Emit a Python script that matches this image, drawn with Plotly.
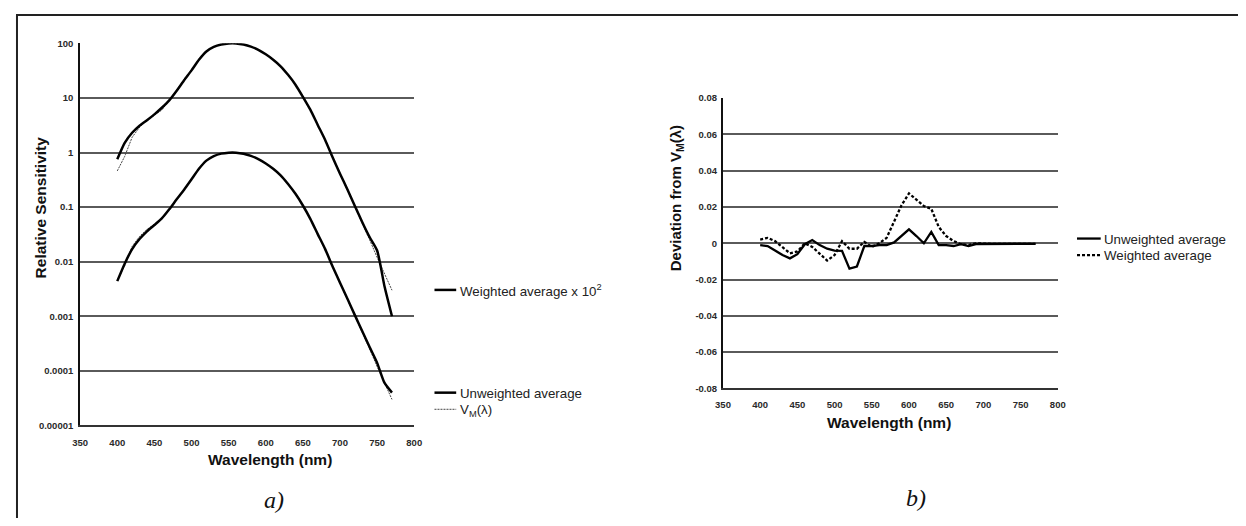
import plotly.graph_objects as go

# ---------------- data ----------------
wavelength = [400, 410, 420, 430, 440, 450, 460, 470, 480, 490,
              500, 510, 520, 530, 540, 550, 560, 570, 580, 590,
              600, 610, 620, 630, 640, 650, 660, 670, 680, 690,
              700, 710, 720, 730, 740, 750, 760, 770]

unweighted_avg = [0.0044, 0.0092, 0.017, 0.026, 0.036, 0.047, 0.062, 0.091, 0.139, 0.208,
                  0.323, 0.503, 0.71, 0.862, 0.954, 0.995, 0.995, 0.952, 0.87, 0.757,
                  0.631, 0.503, 0.381, 0.265, 0.175, 0.107, 0.061, 0.032, 0.017, 0.0082,
                  0.0041, 0.0021, 0.00105, 0.00053, 0.00027, 0.00014, 0.00006, 0.00004]

vm_lambda = [0.0046, 0.0085, 0.019, 0.029, 0.039, 0.048, 0.060, 0.091, 0.139, 0.208,
             0.323, 0.503, 0.710, 0.862, 0.954, 0.995, 0.995, 0.952, 0.870, 0.757,
             0.631, 0.503, 0.381, 0.265, 0.175, 0.107, 0.061, 0.032, 0.017, 0.00821,
             0.0041, 0.00209, 0.00105, 0.00052, 0.00025, 0.00012, 0.00006, 0.00003]

weighted_avg_x100 = [0.75, 1.5, 2.3, 3.1, 3.9, 5.0, 6.6, 9.0, 13.5, 21,
                     32, 50, 71, 86, 95, 99.5, 99.5, 95, 87, 76,
                     63, 50, 38, 26.5, 17.5, 10.5, 6.1, 3.2, 1.7, 0.82,
                     0.41, 0.21, 0.105, 0.053, 0.028, 0.016, 0.0035, 0.001]

dev_unweighted = [-0.001, -0.0015, -0.004, -0.0065, -0.0083, -0.006, -0.0005, 0.0018, -0.001, -0.003,
                  -0.004, -0.0042, -0.014, -0.0128, -0.0015, -0.0015, -0.001, -0.001, 0.0005, 0.004,
                  0.0077, 0.004, 0.0, 0.0063, -0.001, -0.001, -0.0015, -0.0005, -0.0015, -0.0005,
                  -0.0005, -0.0005, -0.0005, -0.0005, -0.0003, -0.0003, -0.0005, -0.0003]

dev_weighted = [0.002, 0.003, 0.0012, -0.002, -0.0055, -0.0045, 0.0, -0.002, -0.006, -0.0095,
                -0.0065, 0.0012, -0.003, -0.003, 0.0008, -0.002, 0.0, 0.003, 0.012, 0.021,
                0.0275, 0.024, 0.0205, 0.019, 0.009, 0.004, 0.0012, -0.0005, -0.001, 0.0,
                -0.0003, -0.0003, -0.0003, -0.0003, -0.0003, -0.0003, -0.0003, -0.0003]

log_ticks = [0.00001, 0.0001, 0.001, 0.01, 0.1, 1, 10, 100]
log_tick_text = ["0.00001", "0.0001", "0.001", "0.01", "0.1", "1", "10", "100"]
x_ticks = [350, 400, 450, 500, 550, 600, 650, 700, 750, 800]
dev_ticks = [-0.08, -0.06, -0.04, -0.02, 0, 0.02, 0.04, 0.06, 0.08]
dev_tick_text = ["-0.08", "-0.06", "-0.04", "-0.02", "0", "0.02", "0.04", "0.06", "0.08"]

# ---------------- layout helpers ----------------
# The page body keeps its default 8px margin, so the figure is 1230x510
# and screen pixel positions are converted to paper coordinates.
OFF = 8
W, H = 1230, 510
def px(x):
    return (x - OFF) / W
def py(y):
    return 1 - (y - OFF) / H

SANS = "Liberation Sans, Arial, sans-serif"
SERIF = "Liberation Serif, Times New Roman, serif"
GRID = "#5a5a5a"
tickfont = dict(family=SANS, size=9.5, color="#2a2a2a", weight="bold")

fig = go.Figure()

# left chart
fig.add_trace(go.Scatter(x=wavelength, y=vm_lambda, mode="lines", xaxis="x", yaxis="y",
                         line=dict(color="#444", width=1, dash="2px,1px"), showlegend=False))
fig.add_trace(go.Scatter(x=wavelength, y=[v * 100 for v in vm_lambda], mode="lines", xaxis="x", yaxis="y",
                         line=dict(color="#444", width=1, dash="2px,1px"), showlegend=False))
fig.add_trace(go.Scatter(x=wavelength, y=unweighted_avg, mode="lines", xaxis="x", yaxis="y",
                         line=dict(color="black", width=2.5, shape="spline", smoothing=0.6), showlegend=False))
fig.add_trace(go.Scatter(x=wavelength, y=weighted_avg_x100, mode="lines", xaxis="x", yaxis="y",
                         line=dict(color="black", width=2.5, shape="spline", smoothing=0.6), showlegend=False))

# right chart
fig.add_trace(go.Scatter(x=wavelength, y=dev_unweighted, mode="lines", xaxis="x2", yaxis="y2",
                         line=dict(color="black", width=2.3), showlegend=False))
fig.add_trace(go.Scatter(x=wavelength, y=dev_weighted, mode="lines", xaxis="x2", yaxis="y2",
                         line=dict(color="black", width=2.3, dash="3px,2px"), showlegend=False))

fig.update_layout(
    width=W, height=H, autosize=False,
    margin=dict(l=0, r=0, t=0, b=0),
    paper_bgcolor="white", plot_bgcolor="white",
    xaxis=dict(domain=[px(73), px(411.5)], range=[350, 800], tickvals=x_ticks,
               showgrid=False, zeroline=False, showline=True, linecolor="#333", linewidth=2,
               ticks="outside", ticklen=7, tickcolor="rgba(0,0,0,0)", tickfont=tickfont,
               anchor="y"),
    yaxis=dict(domain=[py(428.5), py(38)], type="log", range=[-5, 2],
               tickvals=log_ticks, ticktext=log_tick_text,
               showgrid=True, gridcolor=GRID, gridwidth=2, zeroline=False,
               showline=True, linecolor="#111", linewidth=2,
               ticks="outside", ticklen=3, tickcolor="rgba(0,0,0,0)", tickfont=tickfont,
               anchor="x"),
    xaxis2=dict(domain=[px(724.3), px(1063.5)], range=[350, 800], tickvals=x_ticks,
                showgrid=False, zeroline=False, showline=True, linecolor="#333", linewidth=2,
                ticks="outside", ticklen=6, tickcolor="rgba(0,0,0,0)", tickfont=tickfont,
                anchor="y2"),
    yaxis2=dict(domain=[py(390.7), py(94)], range=[-0.08, 0.08],
                tickvals=dev_ticks, ticktext=dev_tick_text,
                showgrid=True, gridcolor=GRID, gridwidth=2, zeroline=False,
                showline=True, linecolor="#111", linewidth=2,
                ticks="outside", ticklen=2, tickcolor="rgba(0,0,0,0)", tickfont=tickfont,
                anchor="x2"),
)

shapes = [
    # outer frame: left and top edges
    dict(type="line", xref="paper", yref="paper", x0=px(9), x1=px(9), y0=py(9), y1=py(530),
         line=dict(color="#222", width=2)),
    dict(type="line", xref="paper", yref="paper", x0=px(8), x1=px(1250), y0=py(9), y1=py(9),
         line=dict(color="#222", width=2)),
    # legend samples, left chart
    dict(type="line", xref="paper", yref="paper", x0=px(432), x1=px(454), y0=py(290), y1=py(290),
         line=dict(color="black", width=2.5)),
    dict(type="line", xref="paper", yref="paper", x0=px(432), x1=px(454), y0=py(395), y1=py(395),
         line=dict(color="black", width=2.5)),
    dict(type="line", xref="paper", yref="paper", x0=px(432), x1=px(454), y0=py(412), y1=py(412),
         line=dict(color="#444", width=1, dash="2px,1px")),
    # legend samples, right chart
    dict(type="line", xref="paper", yref="paper", x0=px(1083), x1=px(1107), y0=py(237.5), y1=py(237.5),
         line=dict(color="black", width=2.3)),
    dict(type="line", xref="paper", yref="paper", x0=px(1083), x1=px(1107), y0=py(254.5), y1=py(254.5),
         line=dict(color="black", width=2.3, dash="3px,2px")),
]
fig.update_layout(shapes=shapes)

def ann(text, x, y, size, family=SANS, xanchor="center", textangle=0, color="#111"):
    return dict(text=text, x=px(x), y=py(y), xref="paper", yref="paper", showarrow=False,
                xanchor=xanchor, yanchor="middle", textangle=textangle,
                font=dict(family=family, size=size, color=color))

annotations = [
    ann("<b>Relative Sensitivity</b>", 33, 206, 15.5, textangle=-90),
    ann("<b>Wavelength (nm)</b>", 265, 463, 15.5),
    ann("<i>a)</i>", 269, 505, 24, family=SERIF),
    ann("<b>Deviation from V<sub>M</sub>(λ)</b>", 678, 196, 15, textangle=-90),
    ann("<b>Wavelength (nm)</b>", 893, 425, 15.5),
    ann("<i>b)</i>", 920, 503, 24, family=SERIF),
    ann("Weighted average x 10<sup>2</sup>", 456, 291, 13.3, xanchor="left", color="#222"),
    ann("Unweighted average", 456, 396, 13.3, xanchor="left", color="#222"),
    ann("V<sub>M</sub>(λ)", 456, 413, 13.3, xanchor="left", color="#222"),
    ann("Unweighted average", 1108, 238, 13.3, xanchor="left", color="#222"),
    ann("Weighted average", 1108, 255, 13.3, xanchor="left", color="#222"),
]
fig.update_layout(annotations=annotations)

fig.write_html("out.html", config={"displayModeBar": False})
